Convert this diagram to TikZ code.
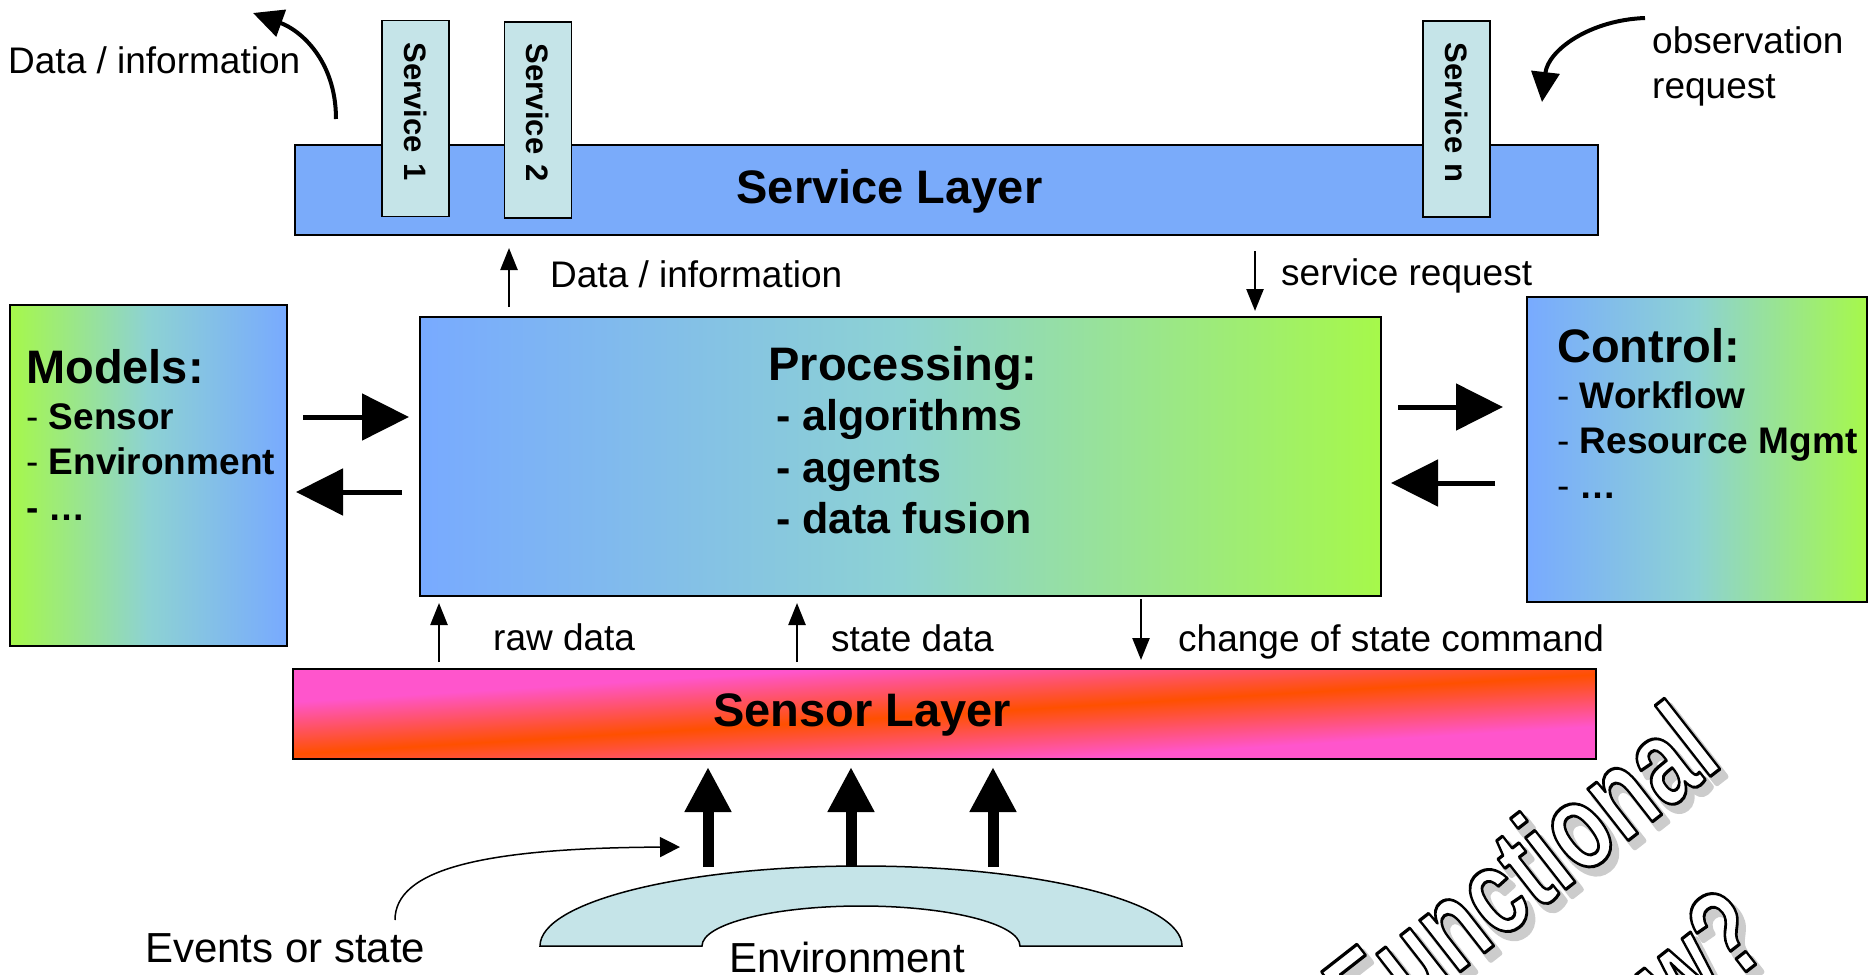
\documentclass[tikz,border=0pt]{standalone}
\usepackage{fontspec}
\setmainfont{Liberation Sans}
\usepackage{xcolor}
\usetikzlibrary{arrows.meta}
\definecolor{layerblue}{HTML}{7AABFA}
\definecolor{servicecyan}{HTML}{C5E4E8}
\definecolor{gradblue}{HTML}{78AAFF}
\definecolor{gradteal}{HTML}{8DD2D3}
\definecolor{gradgreen}{HTML}{A6F84A}
\definecolor{sensorpink}{HTML}{FF55CC}
\definecolor{sensororange}{HTML}{FF5000}
\newcommand{\outlinetext}[1]{\special{pdf:literal direct 0 G 3.2 w 1 j 2 Tr}#1\special{pdf:literal direct 0 Tr}}
\newcommand{\shadowtext}[1]{\special{pdf:literal direct 0.8 G 6 w 1 j 2 Tr}#1\special{pdf:literal direct 0 Tr}}

\tikzset{
    box/.style = {draw, line width = 1.5pt, inner sep = 0pt, outer sep = 0pt},
    servicebox/.style = {box, fill = servicecyan, rotate = -90, text width = 152pt, inner xsep = 22pt, minimum height = 67pt, align = left, font = \fontsize{31}{36}\selectfont\bfseries},
    lbl/.style = {inner sep = 0pt, font = \fontsize{37}{44}\selectfont},
    biglbl/.style = {inner sep = 0pt, font = \fontsize{42}{50}\selectfont},
    layertitle/.style = {inner sep = 0pt, font = \fontsize{47}{56}\selectfont\bfseries},
    procitem/.style = {inner sep = 0pt, font = \fontsize{43}{50}\selectfont\bfseries},
    thinarrow/.style = {-{Triangle[length = 22pt, width = 17pt]}, line width = 2.5pt},
    blockarrow/.style = {-{Triangle[length = 47pt, width = 46pt]}, line width = 5pt},
    envarrow/.style = {-{Triangle[length = 45pt, width = 44pt]}, line width = 11pt},
    curvearrow/.style = {-{Triangle[length = 30pt, width = 28pt]}, line width = 4pt},
    wordart/.style = {inner sep = 0pt, anchor = base east, rotate = 38, xscale = 0.72, font = \fontsize{124}{140}\selectfont\bfseries}
}

\begin{document}
\begin{tikzpicture}[x = 1pt, y = -1pt]
        \useasboundingbox (0, 0) rectangle (1873, 974);
        \clip (0, 0) rectangle (1873, 974);

        % Layers and boxes
        \node [box, fill = layerblue, minimum width = 1303pt, minimum height = 90pt] (service) at (946.5, 190) {};
        \node [layertitle, anchor = base] (servicetext) at (889.5, 203) {Service Layer};
        \node [servicebox] (s1) at (415.5, 118.5) {Service 1};
        \node [servicebox] (s2) at (538, 120) {Service 2};
        \node [servicebox] (sn) at (1456.5, 119) {Service n};

        \node [box, left color = gradblue, right color = gradgreen, middle color = gradteal, minimum width = 961pt, minimum height = 279pt] (proc) at (900.5, 456.5) {};
        \node [box, left color = gradgreen, right color = gradblue, middle color = gradteal, minimum width = 277pt, minimum height = 341pt] (models) at (148.5, 475.5) {};
        \node [box, left color = gradblue, right color = gradgreen, middle color = gradteal, minimum width = 340pt, minimum height = 305pt] (control) at (1697, 449.5) {};

        \node [box, fill = sensorpink, minimum width = 1303pt, minimum height = 90pt] (sensor) at (944.5, 714) {};
        \begin{scope}
            \clip (sensor.north west) rectangle (sensor.south east);
            \begin{scope}[transform canvas = {rotate around = {3.5:(sensor.center)}}]
                \shade [top color = sensorpink, bottom color = sensorpink, middle color = sensororange] (144.5, 662) rectangle (1744.5, 766);
            \end{scope}
        \end{scope}
        \draw [line width = 1.5pt] (sensor.north west) rectangle (sensor.south east);
        \node [layertitle, anchor = base] (sensortext) at (862, 726) {Sensor Layer};

        \draw [fill = servicecyan, line width = 1.5pt] (540, 946) arc [start angle = 180, end angle = 0, x radius = 321pt, y radius = 80pt] -- (1020, 946) arc [start angle = 0, end angle = 180, x radius = 159pt, y radius = 40pt] -- cycle;

        % Box texts
        \node [layertitle, anchor = base] (proctitle) at (903, 380) {Processing:};
        \node [procitem, anchor = base west] (p1) at (776, 430) {- algorithms};
        \node [procitem, anchor = base west] (p2) at (776, 482) {- agents};
        \node [procitem, anchor = base west] (p3) at (776, 533) {- data fusion};

        \node [layertitle, anchor = base west] (modelstitle) at (26, 383) {Models:};
        \node [lbl, anchor = base west] (m1) at (26, 429) {- \textbf{Sensor}};
        \node [lbl, anchor = base west] (m2) at (26, 474) {- \textbf{Environment}};
        \node [lbl, anchor = base west] (m3) at (26, 520) {\textbf{- …}};

        \node [layertitle, anchor = base west] (controltitle) at (1557, 362) {Control:};
        \node [lbl, anchor = base west] (c1) at (1557, 408) {- \textbf{Workflow}};
        \node [lbl, anchor = base west] (c2) at (1557, 453) {- \textbf{Resource Mgmt}};
        \node [lbl, anchor = base west] (c3) at (1557, 498) {- \textbf{…}};

        % Labels
        \node [lbl, anchor = base west] (toplabel) at (8, 74) {Data / information};
        \node [lbl, anchor = base west] (obsa) at (1652, 54) {observation};
        \node [lbl, anchor = base west] (obsb) at (1652, 98) {request};
        \node [lbl, anchor = base west] (infolabel) at (550, 287) {Data / information};
        \node [lbl, anchor = base west] (reqlabel) at (1281, 285) {service request};
        \node [lbl, anchor = base west] (rawlabel) at (493, 650) {raw data};
        \node [lbl, anchor = base west] (statelabel) at (831, 651) {state data};
        \node [lbl, anchor = base west] (cmdlabel) at (1178, 651) {change of state command};
        \node [biglbl, anchor = base west] (events) at (145, 962) {Events or state};
        \node [biglbl, anchor = base west] (envtext) at (729, 972) {Environment};

        % Draw the links
        \coordinate (mrowa) at (0, 417);
        \coordinate (mrowb) at (0, 492);
        \coordinate (crowa) at (0, 407);
        \coordinate (crowb) at (0, 483);
        \draw [blockarrow, shorten <= 16pt, shorten >= 11pt] (models.east |- mrowa) -- (proc.west |- mrowa);
        \draw [blockarrow, shorten <= 18pt, shorten >= 9pt] (proc.west |- mrowb) -- (models.east |- mrowb);
        \draw [blockarrow, shorten <= 17pt, shorten >= 24pt] (proc.east |- crowa) -- (control.west |- crowa);
        \draw [blockarrow, shorten <= 32pt, shorten >= 10pt] (control.west |- crowb) -- (proc.east |- crowb);

        \coordinate (infocol) at (509, 0);
        \coordinate (reqcol) at (1255, 0);
        \coordinate (rawcol) at (439, 0);
        \coordinate (statecol) at (797, 0);
        \coordinate (cmdcol) at (1141, 0);
        \draw [thinarrow, shorten <= 10pt, shorten >= 13pt] (proc.north -| infocol) -- (service.south -| infocol);
        \draw [thinarrow, shorten <= 16pt, shorten >= 6pt] (service.south -| reqcol) -- (proc.north -| reqcol);
        \draw [thinarrow, shorten <= 7pt, shorten >= 7pt] (sensor.north -| rawcol) -- (proc.south -| rawcol);
        \draw [thinarrow, shorten <= 7pt, shorten >= 7pt] (sensor.north -| statecol) -- (proc.south -| statecol);
        \draw [thinarrow, shorten <= 3pt, shorten >= 9pt] (proc.south -| cmdcol) -- (sensor.north -| cmdcol);

        \coordinate (enva) at (708, 867);
        \coordinate (envb) at (851, 867);
        \coordinate (envc) at (993, 867);
        \draw [envarrow, shorten >= 8pt] (enva) -- (sensor.south -| enva);
        \draw [envarrow, shorten >= 8pt] (envb) -- (sensor.south -| envb);
        \draw [envarrow, shorten >= 8pt] (envc) -- (sensor.south -| envc);

        \coordinate (datatail) at (336, 119);
        \coordinate (datatip) at (253, 13);
        \coordinate (obstail) at (1645, 18);
        \coordinate (obstip) at (1542, 102);
        \coordinate (eventtail) at (395, 920);
        \coordinate (eventtip) at (680, 847);
        \draw [curvearrow] (datatail) .. controls (336, 60) and (300, 30) .. (datatip);
        \draw [curvearrow] (obstail) .. controls (1590, 20) and (1548, 50) .. (obstip);
        \draw [-{Triangle[length = 20pt, width = 20pt]}, line width = 1.5pt] (eventtail) .. controls (395, 870) and (480, 848) .. (eventtip);

        % Word art
        \node [wordart, text = black!20] (fshadow) at (1731, 772) {\shadowtext{Functional}};
        \node [wordart, text = black!20] (vshadow) at (1780, 957) {\shadowtext{view?}};
        \node [wordart, text = white] (functional) at (1725, 765) {\outlinetext{Functional}};
        \node [wordart, text = white] (view) at (1774, 950) {\outlinetext{view?}};

    \end{tikzpicture}
\end{document}
